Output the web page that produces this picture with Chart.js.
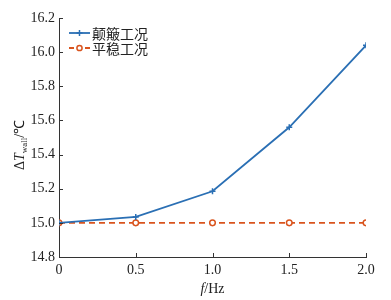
<!DOCTYPE html>
<html>
<head>
<meta charset="utf-8">
<script src="https://cdn.jsdelivr.net/npm/chart.js@4/dist/chart.umd.min.js"></script>
<style>
  html, body { margin: 0; padding: 0; background: #fff; }
  #wrap { width: 391px; height: 300px; }
</style>
</head>
<body>
<div id="wrap"><canvas id="myChart" width="391" height="300"></canvas></div>
<script>
// data
var freq = [0, 0.5, 1.0, 1.5, 2.0];
var bumpy = [15.0, 15.035, 15.185, 15.56, 16.04];
var steady = [15.0, 15.0, 15.0, 15.0, 15.0];
var seriesNames = ['颠簸工况', '平稳工况'];
var xTickLabels = ['0', '0.5', '1.0', '1.5', '2.0'];

var blue = '#2a6fb4';
var orange = '#d9541e';
var serif = '"Liberation Serif", "Times New Roman", serif';
var cjk = '"Noto Sans CJK SC", sans-serif';

function pts(ys) {
    var out = [];
    for (var i in freq) {
        out.push({x: freq[i], y: ys[i]});
    }
    return out;
}

// inward ticks, axis titles and legend
var extras = {
    id: 'extras',
    afterDraw: function (chart) {
        var c = chart.ctx;
        var xs = chart.scales.x, ys = chart.scales.y;
        var a = chart.chartArea;
        c.save();
        c.strokeStyle = '#333';
        c.lineWidth = 1;
        c.beginPath();
        ys.ticks.forEach(function (t) {
            var py = Math.round(ys.getPixelForValue(t.value)) + 0.5;
            c.moveTo(a.left, py);
            c.lineTo(a.left + 4, py);
        });
        xs.ticks.forEach(function (t) {
            var px = Math.round(xs.getPixelForValue(t.value)) + 0.5;
            c.moveTo(px, a.bottom);
            c.lineTo(px, a.bottom - 4);
        });
        c.stroke();

        // x title: f/Hz
        c.fillStyle = '#222';
        c.textBaseline = 'alphabetic';
        var cx = (a.left + a.right) / 2;
        c.font = 'italic 14px ' + serif;
        var w1 = c.measureText('f').width;
        c.font = '14px ' + serif;
        var w2 = c.measureText('/Hz').width;
        var sx = cx - (w1 + w2) / 2;
        c.font = 'italic 14px ' + serif;
        c.fillText('f', sx, 293);
        c.font = '14px ' + serif;
        c.fillText('/Hz', sx + w1, 293);

        // y title: ΔT_wall/℃
        c.translate(24, 145);
        c.rotate(-Math.PI / 2);
        var parts = [
            {t: 'Δ', f: '14px ' + serif, dy: 0},
            {t: 'T', f: 'italic 14px ' + serif, dy: 0},
            {t: 'wall', f: '9px ' + serif, dy: 3},
            {t: '/℃', f: '14px ' + serif, dy: 0}
        ];
        var total = 0;
        parts.forEach(function (p) { c.font = p.f; p.w = c.measureText(p.t).width; total += p.w; });
        var px0 = -total / 2;
        parts.forEach(function (p) {
            c.font = p.f;
            c.fillText(p.t, px0, p.dy);
            px0 += p.w;
        });
        c.restore();

        // legend
        c.save();
        var lx = a.left + 10, ly = [33, 48];
        var cols = [blue, orange];
        for (var i = 0; i < 2; i++) {
            c.strokeStyle = cols[i];
            c.lineWidth = 1.8;
            c.setLineDash(i == 1 ? [5, 3] : []);
            c.beginPath();
            c.moveTo(lx, ly[i]);
            c.lineTo(lx + 21, ly[i]);
            c.stroke();
            c.setLineDash([]);
            c.lineWidth = 1.5;
            c.beginPath();
            if (i == 0) {
                c.moveTo(lx + 10.5, ly[i] - 3);
                c.lineTo(lx + 10.5, ly[i] + 3);
                c.moveTo(lx + 7.5, ly[i]);
                c.lineTo(lx + 13.5, ly[i]);
                c.stroke();
            } else {
                c.fillStyle = '#fff';
                c.arc(lx + 10.5, ly[i], 2.6, 0, Math.PI * 2);
                c.fill();
                c.stroke();
            }
            c.fillStyle = '#222';
            c.font = '14px ' + cjk;
            c.textBaseline = 'middle';
            c.fillText(seriesNames[i], lx + 23, ly[i] + 1);
        }
        c.restore();
    }
};

var ctx = document.getElementById('myChart');
var myChart = new Chart(ctx, {
    type: 'line',
    data: {
        datasets: [{
            label: seriesNames[0],
            data: pts(bumpy),
            borderColor: blue,
            backgroundColor: blue,
            borderWidth: 1.8,
            pointStyle: 'cross',
            pointRadius: 3,
            pointBorderWidth: 1.5
        }, {
            label: seriesNames[1],
            data: pts(steady),
            borderColor: orange,
            backgroundColor: '#fff',
            borderWidth: 1.8,
            borderDash: [6, 4],
            pointStyle: 'circle',
            pointRadius: 2.8,
            pointBorderWidth: 1.5
        }]
    },
    options: {
        responsive: false,
        animation: false,
        layout: { padding: { top: 18, right: 25, left: 0, bottom: 0 } },
        plugins: { legend: { display: false }, tooltip: { enabled: false } },
        scales: {
            x: {
                type: 'linear',
                min: 0, max: 2,
                afterFit: function (s) { s.height = 43; },
                afterBuildTicks: function (s) {
                    s.ticks = freq.map(function (v) { return {value: v}; });
                },
                ticks: {
                    autoSkip: false,
                    color: '#222',
                    padding: 5,
                    font: { family: serif, size: 14 },
                    callback: function (v, i) { return xTickLabels[i]; }
                },
                grid: { display: true, drawOnChartArea: false, tickLength: 0, color: '#333' },
                border: { display: true, color: '#333', width: 1 }
            },
            y: {
                min: 14.8, max: 16.2,
                afterFit: function (s) { s.width = 59; },
                ticks: {
                    stepSize: 0.2,
                    color: '#222',
                    padding: 4,
                    font: { family: serif, size: 14 },
                    callback: function (v) { return v.toFixed(1); }
                },
                grid: { display: true, drawOnChartArea: false, tickLength: 0, color: '#333' },
                border: { display: true, color: '#333', width: 1 }
            }
        }
    },
    plugins: [extras]
});
</script>
</body>
</html>
